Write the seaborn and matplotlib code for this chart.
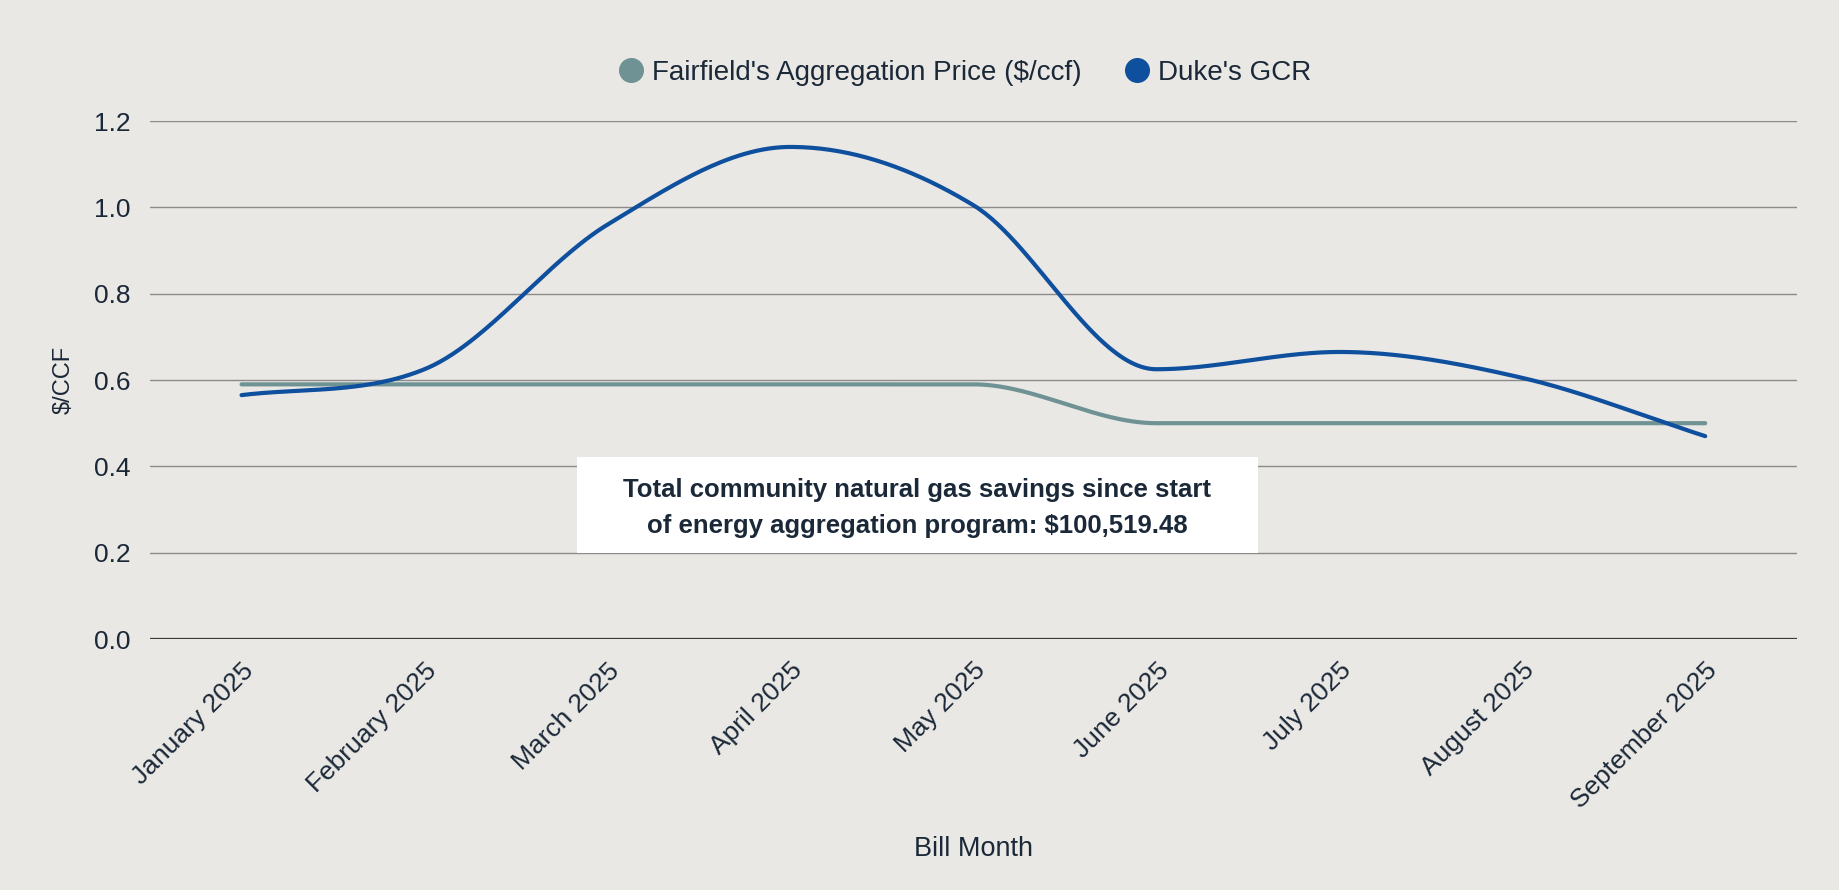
import matplotlib
matplotlib.use("Agg")
import matplotlib.pyplot as plt
from matplotlib.patches import Rectangle
import numpy as np
import pandas as pd
import seaborn as sns

months = ["January 2025", "February 2025", "March 2025", "April 2025", "May 2025",
          "June 2025", "July 2025", "August 2025", "September 2025"]
fairfield_price = [0.59, 0.59, 0.59, 0.59, 0.59, 0.50, 0.50, 0.50, 0.50]
duke_gcr = [0.565, 0.625, 0.96, 1.14, 1.005, 0.625, 0.665, 0.605, 0.47]

series_names = ["Fairfield's Aggregation Price (\\$/ccf)", "Duke's GCR"]
series_colors = ["#6f9294", "#0e4f9e"]
note = "Total community natural gas savings since start\nof energy aggregation program: \\$100,519.48"

BG = "#eae8e4"
TEXT = "#1a2838"


def monotone_curve(y, n=60):
    # monotone cubic (Chart.js style), only to draw a smooth line through the points
    y = np.asarray(y, dtype=float)
    d = np.diff(y)
    m = np.zeros_like(y)
    m[0], m[-1] = d[0], d[-1]
    for i in range(1, len(y) - 1):
        if d[i - 1] * d[i] > 0:
            m[i] = (d[i - 1] + d[i]) / 2
    for i in range(len(d)):
        if d[i] == 0:
            m[i] = m[i + 1] = 0.0
            continue
        a, b = m[i] / d[i], m[i + 1] / d[i]
        s = a * a + b * b
        if s > 9:
            tau = 3 / np.sqrt(s)
            m[i], m[i + 1] = tau * a * d[i], tau * b * d[i]
    xs, ys = [], []
    for i in range(len(d)):
        t = np.linspace(0, 1, n, endpoint=(i == len(d) - 1))
        h00 = 2 * t**3 - 3 * t**2 + 1
        h10 = t**3 - 2 * t**2 + t
        h01 = -2 * t**3 + 3 * t**2
        h11 = t**3 - t**2
        xs.append(i + t)
        ys.append(h00 * y[i] + h10 * m[i] + h01 * y[i + 1] + h11 * m[i + 1])
    return np.concatenate(xs), np.concatenate(ys)


frames = []
for name, vals in zip(series_names, [fairfield_price, duke_gcr]):
    xs, ys = monotone_curve(vals)
    frames.append(pd.DataFrame({"x": xs, "y": ys, "series": name}))
df = pd.concat(frames, ignore_index=True)

sns.set_theme(style="whitegrid")
plt.rcParams["font.family"] = ["Liberation Sans", "DejaVu Sans"]

fig = plt.figure(figsize=(18.39, 8.9), dpi=100, facecolor=BG)
ax = fig.add_axes([0.0816, 0.282, 0.8954, 0.582])
ax.set_facecolor(BG)

sns.lineplot(data=df, x="x", y="y", hue="series", palette=series_colors,
             hue_order=series_names, linewidth=3, ax=ax, legend=False, sort=False)

ax.set_xlim(-0.5, 8.5)
ax.set_ylim(0, 1.2)
yt = np.arange(0, 1.21, 0.2)
ax.set_yticks(yt)
ax.set_yticklabels([f"{v:.1f}" for v in yt])
ax.set_xticks(range(len(months)))
ax.set_xticklabels(months, rotation=45, ha="right", va="top", rotation_mode="anchor")
ax.tick_params(axis="both", labelsize=19, colors=TEXT, length=0)
ax.tick_params(axis="x", pad=14)
ax.tick_params(axis="y", pad=14)
ax.grid(axis="x", visible=False)
ax.grid(axis="y", color="#8c8a8a", linewidth=1.0)
ax.axhline(0, color="#3a3a3a", linewidth=1.6, zorder=1)
for s in ax.spines.values():
    s.set_visible(False)

ax.set_xlabel("Bill Month", fontsize=19.5, color=TEXT)
ax.xaxis.set_label_coords(0.5, -0.38)
ax.set_ylabel("\\$/CCF", fontsize=17, color=TEXT, labelpad=14)

handles = [plt.Line2D([], [], marker="o", linestyle="", markersize=17,
                      markerfacecolor=c, markeredgecolor=c) for c in series_colors]
fig.legend(handles, series_names, loc="center", bbox_to_anchor=(0.5236, 0.918), ncol=2,
           frameon=False, fontsize=20, labelcolor=TEXT, handlelength=1.2,
           handletextpad=0.15, columnspacing=1.4)

ax.add_patch(Rectangle((0.259, 0.166), 0.414, 0.185, transform=ax.transAxes,
                       facecolor="white", edgecolor="none", zorder=4))
ax.text(0.466, 0.253, note, transform=ax.transAxes, ha="center", va="center",
        fontsize=18.5, fontweight="bold", color=TEXT, linespacing=1.62, zorder=5)

fig.savefig("out.png", dpi=100, facecolor=BG)
